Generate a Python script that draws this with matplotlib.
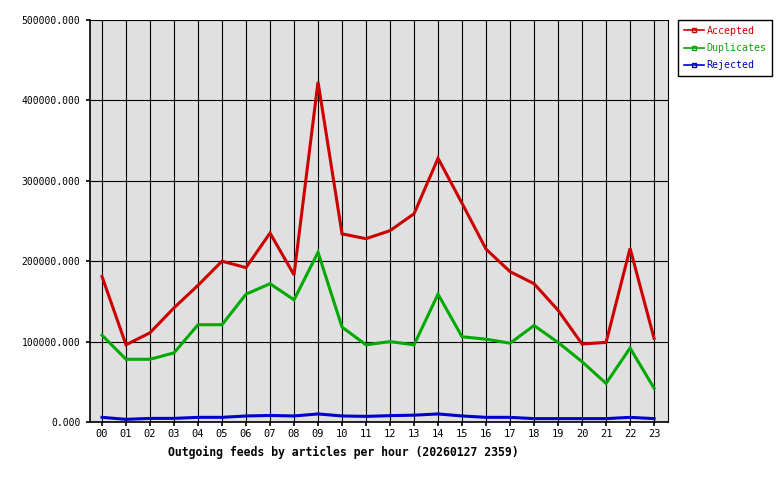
import matplotlib
matplotlib.use("Agg")
import matplotlib.pyplot as plt
from matplotlib.lines import Line2D
import numpy as np

hours = ["00", "01", "02", "03", "04", "05", "06", "07", "08", "09", "10", "11",
         "12", "13", "14", "15", "16", "17", "18", "19", "20", "21", "22", "23"]
accepted = [181000, 96000, 111000, 142000, 170000, 200000, 192000, 235000,
            183000, 423000, 234000, 228000, 238000, 259000, 328000, 272000,
            215000, 187000, 172000, 139000, 97000, 99000, 216000, 104000]
duplicates = [108000, 78000, 78000, 86000, 121000, 121000, 159000, 172000,
              152000, 211000, 118000, 96000, 100000, 96000, 159000, 106000,
              103000, 98000, 120000, 99000, 75000, 48000, 92000, 42000]
rejected = [5800, 3300, 4500, 4500, 5800, 5800, 7500, 8100,
            7500, 10000, 7500, 7000, 7900, 8500, 10000, 7500,
            5800, 5800, 4200, 4200, 4200, 4200, 5800, 4200]
series_names = ["Accepted", "Duplicates", "Rejected"]
colors = ["#cc0000", "#00aa00", "#0000cc"]
yticks = [0, 100000, 200000, 300000, 400000, 500000]

mono = "DejaVu Sans Mono"

fig = plt.figure(figsize=(7.8, 4.8), dpi=100)
ax = fig.add_axes([90 / 780, 58 / 480, 578 / 780, 402 / 480])
ax.set_facecolor("#e0e0e0")

x = np.arange(len(hours))
for vals, c in zip([accepted, duplicates, rejected], colors):
    ax.plot(x, vals, color=c, lw=2.2, solid_joinstyle="miter", zorder=3)

ax.set_xlim(-0.5, 23.58)
ax.set_ylim(0, 500000)
ax.set_xticks(x)
ax.set_xticklabels(hours, family=mono, fontsize=7.5)
ax.set_yticks(yticks)
ax.set_yticklabels(["%.3f" % v for v in yticks], family=mono, fontsize=7)
ax.grid(True, color="black", lw=0.8, zorder=1)
ax.set_axisbelow(True)
ax.tick_params(length=3, width=1.2)
ax.tick_params(axis="x", pad=2)
ax.tick_params(axis="y", pad=4)
ax.spines["top"].set_visible(False)
ax.spines["right"].set_linewidth(0.8)
for s in ["left", "bottom"]:
    ax.spines[s].set_linewidth(1.2)

fig.text(343 / 780, 1 - 452 / 480,
         "Outgoing feeds by articles per hour (20260127 2359)",
         family=mono, fontsize=8.3, fontweight="bold", ha="center", va="center")

handles = [Line2D([0], [0], color=c, lw=1.2, marker="s", markersize=3,
                  markerfacecolor="none", markeredgecolor=c) for c in colors]
leg = fig.legend(handles, series_names, loc="upper left",
                 bbox_to_anchor=(678 / 780, 1 - 20 / 480),
                 prop={"family": mono, "size": 7.2}, frameon=True,
                 fancybox=False, edgecolor="black", framealpha=1,
                 handlelength=2.0, handletextpad=0.3, borderpad=0.55,
                 labelspacing=0.75, numpoints=1, borderaxespad=0)
leg.get_frame().set_linewidth(1.0)
for t, c in zip(leg.get_texts(), colors):
    t.set_color(c)

fig.savefig("out.png", dpi=100)
